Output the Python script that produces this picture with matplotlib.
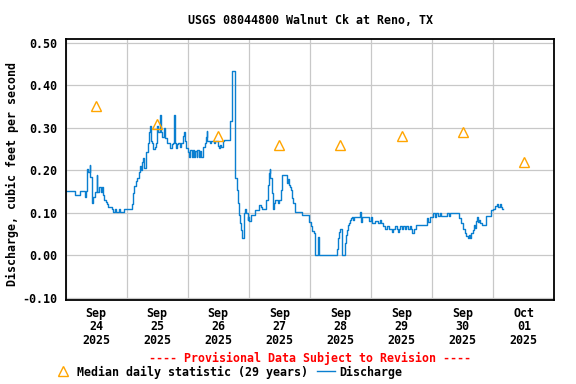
import matplotlib
matplotlib.use("Agg")
import matplotlib.pyplot as plt
import numpy as np

# hours since Sep 24 2025 00:00, 15-minute discharge (cfs), drawn as steps
hours = [0, 3.75, 5.75, 7.5, 8, 8.5, 9, 9.5, 9.75, 10.25, 10.75, 11.5, 12.25, 12.5,
         13.25, 13.75, 14.5, 14.75, 15.25, 15.75, 16.25, 16.75, 18.25, 18.75, 19.5,
         20, 21, 21.5, 23, 26, 26.5, 27, 27.75, 28.25, 29, 29.25, 29.75, 30, 30.5,
         31, 31.5, 31.75, 32.5, 32.75, 33.25, 33.5, 34, 34.25, 35, 35.5, 36, 36.5,
         37, 37.5, 38, 38.5, 39, 39.75, 40.25, 41, 41.75, 42.25, 42.5, 43, 43.5,
         43.75, 44.25, 45, 45.25, 46.25, 46.5, 47, 47.25, 48, 48.5, 49, 49.5, 50,
         50.5, 51, 51.5, 51.75, 52.25, 52.75, 53.25, 54, 54.75, 55.25, 55.5, 55.75,
         56.75, 57.25, 58.25, 58.75, 60, 60.25, 60.75, 61, 61.75, 62.25, 64.75,
         65.5, 66.5, 66.75, 67.25, 67.5, 67.75, 68, 68.5, 69, 69.25, 69.5, 70,
         70.25, 70.5, 71, 71.5, 71.75, 72.25, 72.75, 74.5, 76, 76.75, 77.25, 78.75,
         79.5, 80, 80.25, 80.5, 81, 81.5, 82, 82.25, 83.5, 83.75, 84.75, 85, 87,
         87.5, 87.75, 88.25, 88.5, 89, 89.25, 90.25, 92.75, 95.75, 96.5, 97, 97.5,
         98, 99, 99.5, 106.75, 107, 107.5, 107.75, 108.5, 109.75, 110.25, 110.5,
         111, 111.25, 111.75, 112.25, 112.5, 113, 113.25, 115.75, 116, 116.5,
         119.25, 120, 120.5, 121.5, 122.75, 123.5, 124, 124.75, 125.5, 126.25, 127,
         128.25, 128.75, 129.5, 130.25, 130.5, 131, 131.5, 132.25, 132.5, 133.25,
         133.75, 134.5, 135.25, 135.75, 136.25, 137, 137.75, 142, 142.5, 143,
         144.25, 145, 145.5, 146.25, 147, 147.5, 150, 150.75, 151, 154.75, 155.25,
         156.25, 156.75, 157.25, 158, 158.5, 159, 159.25, 160, 160.5, 160.75,
         161.25, 161.75, 162, 162.5, 163, 163.5, 165, 167, 167.25, 168, 168.75,
         169.5, 170, 170.75, 171, 171.5, 171.75]
flow = [0.151, 0.142, 0.151, 0.138, 0.151, 0.203, 0.196, 0.212, 0.185, 0.123, 0.138,
        0.15, 0.19, 0.15, 0.16, 0.15, 0.16, 0.142, 0.13, 0.125, 0.121, 0.114, 0.11,
        0.103, 0.108, 0.103, 0.108, 0.103, 0.11, 0.12, 0.147, 0.163, 0.175, 0.183,
        0.197, 0.21, 0.2, 0.22, 0.228, 0.205, 0.228, 0.244, 0.263, 0.29, 0.303,
        0.27, 0.264, 0.25, 0.255, 0.265, 0.303, 0.29, 0.33, 0.29, 0.279, 0.30,
        0.276, 0.265, 0.263, 0.252, 0.262, 0.264, 0.33, 0.264, 0.252, 0.262, 0.264,
        0.255, 0.264, 0.28, 0.29, 0.27, 0.252, 0.244, 0.232, 0.248, 0.232, 0.248,
        0.232, 0.245, 0.232, 0.248, 0.232, 0.245, 0.232, 0.254, 0.265, 0.278,
        0.292, 0.269, 0.263, 0.269, 0.263, 0.269, 0.258, 0.252, 0.26, 0.255,
        0.268, 0.271, 0.315, 0.434, 0.314, 0.183, 0.165, 0.154, 0.122, 0.095,
        0.075, 0.06, 0.048, 0.04, 0.07, 0.099, 0.11, 0.1, 0.083, 0.091, 0.08,
        0.095, 0.107, 0.118, 0.114, 0.11, 0.13, 0.165, 0.193, 0.202, 0.181, 0.146,
        0.108, 0.122, 0.13, 0.122, 0.13, 0.154, 0.189, 0.17, 0.18, 0.165, 0.161,
        0.154, 0.134, 0.122, 0.103, 0.095, 0.079, 0.07, 0.058, 0.052, 0.0, 0.042,
        0.0, 0.016, 0.04, 0.056, 0.061, 0.0, 0.028, 0.048, 0.06, 0.071, 0.075,
        0.083, 0.087, 0.091, 0.083, 0.091, 0.101, 0.078, 0.091, 0.081, 0.091,
        0.075, 0.081, 0.077, 0.083, 0.077, 0.069, 0.063, 0.069, 0.063, 0.056,
        0.063, 0.069, 0.063, 0.056, 0.063, 0.069, 0.063, 0.069, 0.063, 0.069,
        0.063, 0.069, 0.063, 0.053, 0.063, 0.071, 0.087, 0.079, 0.091, 0.1, 0.091,
        0.1, 0.092, 0.1, 0.092, 0.1, 0.092, 0.1, 0.087, 0.075, 0.063, 0.052,
        0.045, 0.04, 0.047, 0.04, 0.052, 0.06, 0.071, 0.065, 0.081, 0.091, 0.079,
        0.083, 0.075, 0.071, 0.092, 0.099, 0.107, 0.11, 0.116, 0.12, 0.114, 0.12,
        0.114, 0.11, 0.11]

# median daily statistic, plotted at noon of each day
median_hours = [12, 36, 60, 84, 108, 132, 156, 180]
median_vals = [0.35, 0.31, 0.28, 0.26, 0.26, 0.28, 0.29, 0.22]

day_labels = ["Sep\n24\n2025", "Sep\n25\n2025", "Sep\n26\n2025", "Sep\n27\n2025",
              "Sep\n28\n2025", "Sep\n29\n2025", "Sep\n30\n2025", "Oct\n01\n2025"]
y_ticks = [-0.1, 0.0, 0.1, 0.2, 0.3, 0.4, 0.5]

plt.rcParams['font.family'] = ['DejaVu Sans Mono']
plt.rcParams['font.weight'] = 'bold'
plt.rcParams['font.size'] = 8.4

fig = plt.figure(figsize=(5.76, 3.84), dpi=100)
ax = fig.add_axes([65.5/576, 1-300/384, (554.3-65.5)/576, (300-39.3)/384])

line, = ax.plot(hours, flow, drawstyle='steps-post', color='#0a7fd0', lw=1.0,
                label='Discharge')
tri, = ax.plot(median_hours, median_vals, ls='none', marker='^', ms=7.5,
               mfc='none', mec='#ffa500', mew=1.0,
               label='Median daily statistic (29 years)')

ax.set_xlim(0, 192)
ax.set_ylim(-0.105, 0.508)
ax.set_xticks(np.arange(0, 193, 24))
ax.set_xticklabels([])
ax.set_xticks(median_hours, minor=True)
ax.set_xticklabels(day_labels, minor=True, linespacing=1.05)
ax.tick_params(axis='x', which='both', length=0, pad=5)
ax.set_yticks(y_ticks)
ax.set_yticklabels(['%.2f' % v for v in y_ticks])
ax.tick_params(axis='y', length=0, pad=6)
ax.grid(True, which='major', color='#c8c8c8', lw=0.9)
ax.set_axisbelow(True)
for s in ax.spines.values():
    s.set_linewidth(1.3)

fig.text(310/576, 1-20/384, 'USGS 08044800 Walnut Ck at Reno, TX',
         ha='center', va='center')
fig.text(12/576, 0.548, 'Discharge, cubic feet per second', rotation=90,
         ha='center', va='center')
fig.text(310/576, 1-358/384, '---- Provisional Data Subject to Revision ----',
         ha='center', va='center', color='red')
fig.legend(handles=[tri, line], loc='center left',
           bbox_to_anchor=(54.5/576, 1-372/384), ncol=2, frameon=False,
           handlelength=1.5, handletextpad=0.4, columnspacing=0.8,
           borderpad=0, borderaxespad=0, numpoints=1)

fig.savefig('out.png', dpi=100)
